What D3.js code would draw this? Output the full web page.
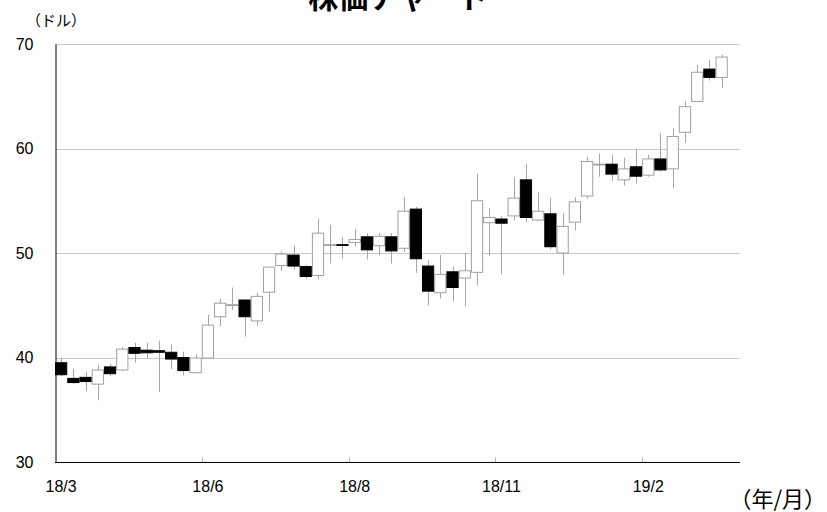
<!DOCTYPE html>
<html><head><meta charset="utf-8">
<script src="https://cdn.jsdelivr.net/npm/d3@7"></script>
<style>body{margin:0;background:#fff;overflow:hidden}</style>
</head><body><svg id="c" width="827" height="512"></svg>
<script>
// weekly candles (56 weekly slots, last slot empty)
const weeks = d3.range(56);
const openV  = [39.5,38.0,38.1,37.45,39.1,38.8,40.95,40.7,40.65,40.5,40.0,38.55,39.95,43.9,45.0,45.5,43.5,46.25,48.8,49.8,48.7,47.85,50.75,50.8,51.0,51.55,50.7,51.55,50.45,54.2,48.75,46.2,48.2,47.6,48.15,52.9,53.25,53.55,57.0,53.15,53.75,50.0,52.95,55.45,58.45,58.5,57.0,58.25,57.45,59.0,58.05,61.55,64.5,67.6,66.8];
const highV  = [40.0,38.9,38.6,39.3,39.4,41.0,41.4,41.4,41.6,41.25,40.55,40.3,44.1,45.6,46.7,45.6,46.2,48.7,50.15,50.7,48.85,53.3,52.7,51.55,52.3,51.9,51.9,51.9,55.35,54.4,49.3,49.8,48.7,50.0,57.6,54.3,53.5,57.3,58.5,55.8,55.25,53.75,55.35,59.2,59.5,59.4,59.1,59.9,59.4,61.45,61.9,64.5,68.0,68.45,68.95];
const lowV   = [38.2,37.5,36.8,35.9,38.2,38.7,39.5,39.9,36.7,38.9,38.3,38.5,39.9,43.0,44.55,42.0,43.0,44.4,48.3,48.4,47.5,47.5,49.0,49.45,50.6,49.4,49.8,49.0,50.1,48.1,45.0,45.65,45.35,44.9,46.9,49.7,48.0,53.1,53.0,53.05,50.35,47.95,52.15,55.2,57.3,56.9,56.45,56.65,57.3,57.8,56.2,60.55,64.5,66.5,65.8];
const closeV = [38.35,37.6,37.7,38.8,38.45,40.8,40.4,40.45,40.5,39.85,38.75,39.95,43.1,45.2,45.05,43.9,45.85,48.65,49.9,48.75,47.75,51.9,50.8,50.75,51.3,50.3,51.6,50.2,54.0,49.45,46.35,47.95,46.7,48.3,55.0,53.4,52.85,55.25,53.4,54.0,50.6,52.55,54.9,58.75,58.5,57.55,58.05,57.35,59.0,57.95,61.15,64.0,67.3,66.8,68.75];
const tickIndex  = [0,12,24,36,48];
const tickLabels = ["18/3","18/6","18/8","18/11","19/2"];
const yTicks = [30,40,50,60,70];

const svg = d3.select("#c");
const L=55, R=740, T=44, B=462;
const x = d3.scaleBand().domain(weeks).range([L,R]).padding(0);
const y = d3.scaleLinear().domain([30,70]).range([B,T]);
const bw = x.bandwidth();
const font = "'Liberation Sans', Arial, sans-serif";
const cjk = "'Noto Sans CJK JP', sans-serif";

// title (clipped by top edge, as in the original)
svg.append("text").attr("x",398).attr("y",8).attr("text-anchor","middle")
  .attr("font-family",cjk).attr("font-weight","bold").attr("font-size",30).text("株価チャート");
svg.append("text").attr("x",26).attr("y",26).attr("font-family",cjk).attr("font-size",15).text("（ドル）");
svg.append("text").attr("x",826).attr("y",507).attr("text-anchor","end")
  .attr("font-family",cjk).attr("font-size",22).text("（年/月）");

// gridlines
svg.append("g").selectAll("line").data(yTicks.filter(d=>d>30)).join("line")
  .attr("x1",L).attr("x2",R).attr("y1",d=>Math.round(y(d))+0.5).attr("y2",d=>Math.round(y(d))+0.5)
  .attr("stroke","#c8c8c8").attr("stroke-width",1);

// y axis
const ya = svg.append("g").attr("transform",`translate(${L+0.5},0)`)
  .call(d3.axisLeft(y).tickValues(yTicks).tickSize(0).tickPadding(22));
ya.select(".domain").attr("stroke","#000");
ya.selectAll("text").attr("font-family",font).attr("font-size",16).attr("fill","#000");

// x axis
const xa = svg.append("g").attr("transform",`translate(0,${Math.round(B)+0.5})`)
  .call(d3.axisBottom(x).tickValues(tickIndex).tickFormat((d,i)=>tickLabels[i]).tickSize(0).tickPadding(18));
xa.select(".domain").attr("stroke","#000").attr("d",`M${L},0H${R}`);
xa.selectAll("text").attr("font-family",font).attr("font-size",16).attr("fill","#000");
svg.append("g").selectAll("line").data(tickIndex.slice(1)).join("line")
  .attr("x1",d=>Math.round(x(d))+0.5).attr("x2",d=>Math.round(x(d))+0.5)
  .attr("y1",B).attr("y2",B-5).attr("stroke","#bbb");

// candles
const data = openV.map((o,i)=>({i,o,h:highV[i],l:lowV[i],c:closeV[i]}));
const g = svg.append("g");
g.selectAll(".wick").data(data).join("line")
  .attr("x1",d=>Math.round(x(d.i)+bw/2)+0.5).attr("x2",d=>Math.round(x(d.i)+bw/2)+0.5)
  .attr("y1",d=>y(d.h)).attr("y2",d=>y(d.l)).attr("stroke","#a6a6a6").attr("stroke-width",1);
g.selectAll(".box").data(data).join("rect")
  .attr("x",d=>x(d.i)+0.5).attr("width",bw-1)
  .attr("y",d=>y(Math.max(d.o,d.c))).attr("height",d=>Math.max(0.8,Math.abs(y(d.o)-y(d.c))))
  .attr("fill",d=>d.c>=d.o?"#fff":"#000")
  .attr("stroke",d=>d.c>=d.o?"#a0a0a0":"#000").attr("stroke-width",1);
</script></body></html>
